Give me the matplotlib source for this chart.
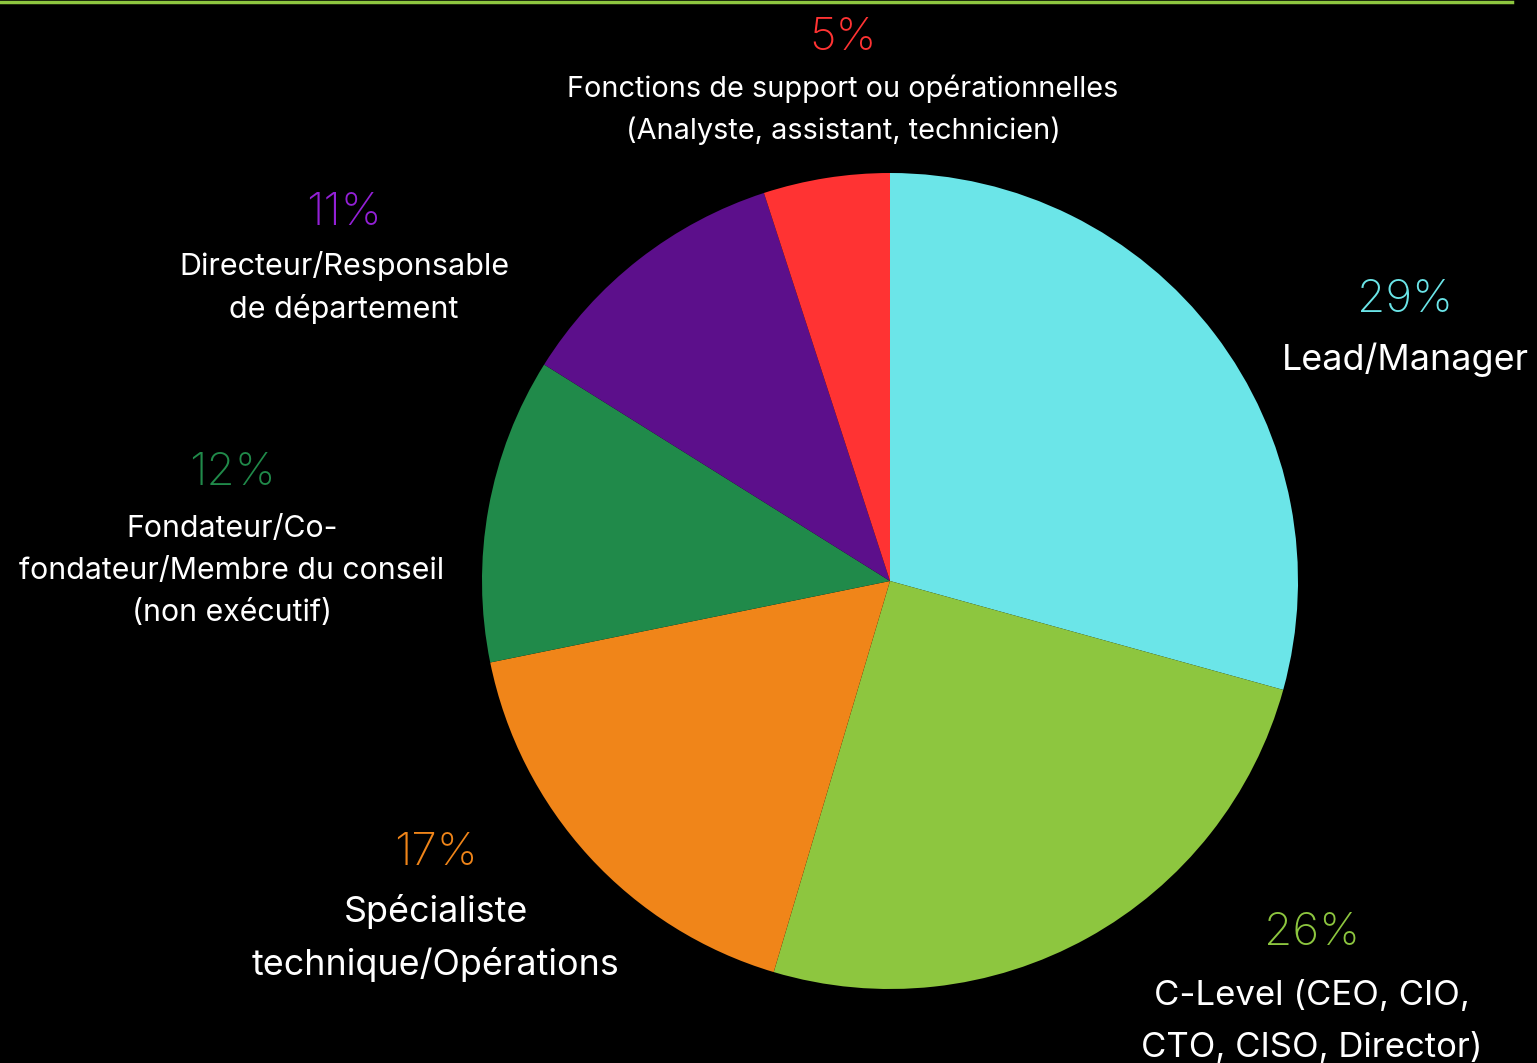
import matplotlib
matplotlib.use("Agg")
import matplotlib.pyplot as plt

# Data (slice sizes; labels as printed)
categories = [
    ["Lead/Manager"],
    ["C-Level (CEO, CIO,", "CTO, CISO, Director)"],
    ["Spécialiste", "technique/Opérations"],
    ["Fondateur/Co-", "fondateur/Membre du conseil", "(non exécutif)"],
    ["Directeur/Responsable", "de département"],
    ["Fonctions de support ou opérationnelles", "(Analyste, assistant, technicien)"],
]
values = [29.3, 25.3, 17.2, 12.1, 11.1, 5.0]
pct_labels = ["29%", "26%", "17%", "12%", "11%", "5%"]
colors = ["#6be5e8", "#8dc63f", "#f08519", "#208a4a", "#5c0f8b", "#ff3333"]
pct_colors = ["#6be5e8", "#8dc63f", "#f08519", "#208a4a", "#9320d6", "#ff3333"]

W, H = 1537, 1063
plt.rcParams['font.family'] = ['Inter', 'DejaVu Sans']

fig = plt.figure(figsize=(W / 100, H / 100), dpi=100, facecolor='black')
ax = fig.add_axes([0, 0, 1, 1])
ax.set_facecolor('black')

# pie, clockwise from the top
ax.pie(values, colors=colors, startangle=90, counterclock=False,
       center=(890, H - 581), radius=408, frame=True,
       wedgeprops=dict(linewidth=0))
ax.set_xlim(0, W)
ax.set_ylim(0, H)
ax.set_aspect('equal')
ax.axis('off')

# label layout: x centre, baseline of the percent, baseline of first text line (px from top)
x_pos = [1405, 1312, 436, 232, 344, 843]
pct_base = [312, 945, 865, 485, 225, 50]
txt_base = [370, 1005, 922, 537, 275, 97]
txt_gap = [0, 52, 53, 42, 43, 42]
txt_size = [25.8, 25, 25.8, 21.8, 22, 20.8]

for i in range(len(values)):
    ax.text(x_pos[i], H - pct_base[i], pct_labels[i], color=pct_colors[i],
            fontsize=33, fontweight='light', ha='center', va='baseline')
    for k, line in enumerate(categories[i]):
        ax.text(x_pos[i], H - (txt_base[i] + k * txt_gap[i]), line, color='white',
                fontsize=txt_size[i], ha='center', va='baseline')

# thin green rule at the top
fig.add_artist(plt.Line2D([0, 1512 / W], [1 - 1.5 / H, 1 - 1.5 / H],
                          color="#8dc63f", linewidth=2.5, transform=fig.transFigure))

fig.savefig("out.png", dpi=100, facecolor='black')
